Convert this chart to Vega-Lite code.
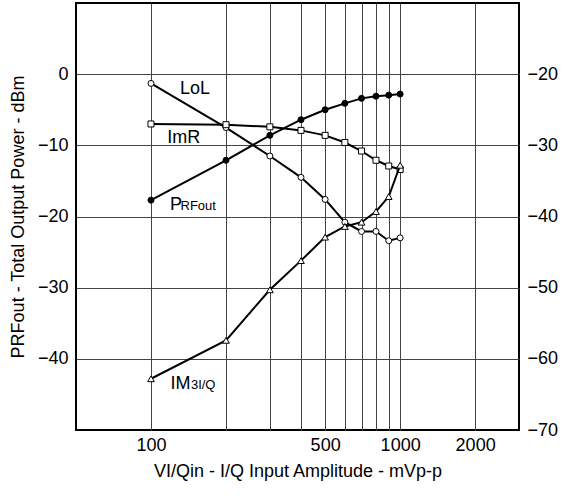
{
  "$schema": "https://vega.github.io/schema/vega-lite/v6.json",
  "width": 443,
  "height": 427,
  "autosize": {"type": "none"},
  "padding": {"left": 76, "top": 3, "right": 45, "bottom": 69},
  "background": "white",
  "config": {
    "font": "Liberation Sans",
    "view": {"stroke": "black", "strokeWidth": 2},
    "axis": {
      "labelFont": "Liberation Sans",
      "labelFontSize": 18,
      "labelColor": "black",
      "titleFont": "Liberation Sans",
      "titleFontSize": 18,
      "titleFontWeight": "normal",
      "titleColor": "black",
      "domain": false,
      "ticks": false,
      "gridColor": "#444",
      "gridWidth": 1,
      "gridOpacity": 1
    }
  },
  "datasets": {
    "main": [
      {"v": 100, "series": "LoL", "val": -1.3},
      {"v": 200, "series": "LoL", "val": -7.5},
      {"v": 300, "series": "LoL", "val": -11.5},
      {"v": 400, "series": "LoL", "val": -14.5},
      {"v": 500, "series": "LoL", "val": -17.6},
      {"v": 600, "series": "LoL", "val": -20.8},
      {"v": 700, "series": "LoL", "val": -22.1},
      {"v": 800, "series": "LoL", "val": -22.1},
      {"v": 900, "series": "LoL", "val": -23.4},
      {"v": 1000, "series": "LoL", "val": -23.0},
      {"v": 100, "series": "ImR", "val": -7.0},
      {"v": 200, "series": "ImR", "val": -7.1},
      {"v": 300, "series": "ImR", "val": -7.4},
      {"v": 400, "series": "ImR", "val": -7.9},
      {"v": 500, "series": "ImR", "val": -8.6},
      {"v": 600, "series": "ImR", "val": -9.6},
      {"v": 700, "series": "ImR", "val": -10.8},
      {"v": 800, "series": "ImR", "val": -12.1},
      {"v": 900, "series": "ImR", "val": -12.9},
      {"v": 1000, "series": "ImR", "val": -13.4},
      {"v": 100, "series": "PRFout", "val": -17.7},
      {"v": 200, "series": "PRFout", "val": -12.1},
      {"v": 300, "series": "PRFout", "val": -8.6},
      {"v": 400, "series": "PRFout", "val": -6.4},
      {"v": 500, "series": "PRFout", "val": -5.0},
      {"v": 600, "series": "PRFout", "val": -4.1},
      {"v": 700, "series": "PRFout", "val": -3.4},
      {"v": 800, "series": "PRFout", "val": -3.1},
      {"v": 900, "series": "PRFout", "val": -2.95},
      {"v": 1000, "series": "PRFout", "val": -2.8}
    ],
    "im3": [
      {"v": 100, "series": "IM3", "val": -62.8},
      {"v": 200, "series": "IM3", "val": -57.4},
      {"v": 300, "series": "IM3", "val": -50.3},
      {"v": 400, "series": "IM3", "val": -46.2},
      {"v": 500, "series": "IM3", "val": -42.9},
      {"v": 600, "series": "IM3", "val": -41.4},
      {"v": 700, "series": "IM3", "val": -40.8},
      {"v": 800, "series": "IM3", "val": -39.3},
      {"v": 900, "series": "IM3", "val": -37.2},
      {"v": 1000, "series": "IM3", "val": -32.8}
    ],
    "labels": [
      {"v": 130.7, "val": -2.75, "text": "LoL"},
      {"v": 116.2, "val": -9.65, "text": "ImR"},
      {"v": 119.2, "val": -19.13, "text": "P"}
    ],
    "sublabels": [
      {"v": 131.4, "val": -19.13, "text": "RFout"}
    ],
    "im3labels": [
      {"v": 119.8, "val": -64.25, "text": "IM"}
    ],
    "im3sub": [
      {"v": 144.6, "val": -64.25, "text": "3I/Q"}
    ]
  },
  "encoding": {
    "x": {
      "field": "v",
      "type": "quantitative",
      "scale": {"type": "log", "domain": [50, 3000], "nice": false},
      "axis": {
        "values": [100, 200, 300, 400, 500, 600, 700, 800, 900, 1000, 2000],
        "format": "d",
        "labelExpr": "indexof([100, 500, 1000, 2000], datum.value) >= 0 ? datum.label : ''",
        "grid": true,
        "labelPadding": 6,
        "labelFlush": false,
        "labelOverlap": false,
        "title": "VI/Qin - I/Q Input Amplitude - mVp-p",
        "titlePadding": 8
      }
    }
  },
  "layer": [
    {
      "encoding": {
        "y": {
          "field": "val",
          "type": "quantitative",
          "scale": {"domain": [-50, 10], "nice": false, "zero": false},
          "axis": {
            "orient": "left",
            "values": [-40, -30, -20, -10, 0],
            "grid": true,
            "labelPadding": 8,
            "title": "PRFout - Total Output Power - dBm",
            "titlePadding": 10
          }
        }
      },
      "layer": [
        {
          "data": {"name": "main"},
          "mark": {"type": "line", "color": "black", "strokeWidth": 2},
          "encoding": {"detail": {"field": "series"}}
        },
        {
          "data": {"name": "main"},
          "mark": {"type": "point", "filled": true, "stroke": "black", "strokeWidth": 1, "opacity": 1, "size": 36},
          "encoding": {
            "shape": {"field": "series", "scale": {"domain": ["LoL", "ImR", "PRFout"], "range": ["circle", "square", "circle"]}, "legend": null},
            "fill": {"field": "series", "scale": {"domain": ["LoL", "ImR", "PRFout"], "range": ["white", "white", "black"]}, "legend": null}
          }
        },
        {
          "data": {"name": "labels"},
          "mark": {"type": "text", "align": "left", "baseline": "alphabetic", "fontSize": 18, "color": "black"},
          "encoding": {"text": {"field": "text"}}
        },
        {
          "data": {"name": "sublabels"},
          "mark": {"type": "text", "align": "left", "baseline": "alphabetic", "fontSize": 13, "color": "black"},
          "encoding": {"text": {"field": "text"}}
        }
      ]
    },
    {
      "encoding": {
        "y": {
          "field": "val",
          "type": "quantitative",
          "scale": {"domain": [-70, -10], "nice": false, "zero": false},
          "axis": {
            "orient": "right",
            "values": [-70, -60, -50, -40, -30, -20],
            "grid": false,
            "labelPadding": 8,
            "title": null
          }
        }
      },
      "layer": [
        {
          "data": {"name": "im3"},
          "mark": {"type": "line", "color": "black", "strokeWidth": 2}
        },
        {
          "data": {"name": "im3"},
          "mark": {"type": "point", "shape": "triangle-up", "filled": true, "fill": "white", "stroke": "black", "strokeWidth": 1, "opacity": 1, "size": 45}
        },
        {
          "data": {"name": "im3labels"},
          "mark": {"type": "text", "align": "left", "baseline": "alphabetic", "fontSize": 18, "color": "black"},
          "encoding": {"text": {"field": "text"}}
        },
        {
          "data": {"name": "im3sub"},
          "mark": {"type": "text", "align": "left", "baseline": "alphabetic", "fontSize": 13, "color": "black"},
          "encoding": {"text": {"field": "text"}}
        }
      ]
    }
  ],
  "resolve": {"scale": {"y": "independent"}}
}
